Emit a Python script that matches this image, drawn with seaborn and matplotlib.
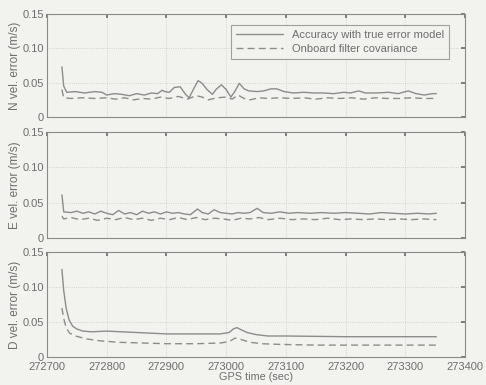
import matplotlib
matplotlib.use("Agg")
import matplotlib.pyplot as plt
import seaborn as sns
import pandas as pd

# ---- data ----
n_true_t = [272725, 272728, 272733, 272747, 272763, 272780, 272792, 272800, 272813, 272825,
            272838, 272850, 272863, 272875, 272885, 272893, 272897, 272905, 272913, 272923,
            272932, 272938, 272945, 272953, 272960, 272968, 272977, 272983, 272992, 273000,
            273008, 273015, 273022, 273030, 273038, 273052, 273063, 273075, 273085, 273097,
            273113, 273130, 273147, 273163, 273180, 273197, 273208, 273222, 273233, 273252,
            273272, 273288, 273305, 273318, 273332, 273345, 273352]
n_true_v = [0.073, 0.045, 0.036, 0.037, 0.035, 0.037, 0.036, 0.032, 0.034, 0.033,
            0.031, 0.034, 0.032, 0.035, 0.034, 0.039, 0.037, 0.036, 0.043, 0.044,
            0.033, 0.028, 0.040, 0.053, 0.049, 0.040, 0.033, 0.040, 0.047, 0.040,
            0.029, 0.038, 0.049, 0.041, 0.038, 0.037, 0.038, 0.041, 0.041, 0.037,
            0.035, 0.036, 0.035, 0.035, 0.034, 0.036, 0.035, 0.038, 0.035, 0.035,
            0.036, 0.034, 0.038, 0.034, 0.032, 0.034, 0.034]
n_cov_t = [272725, 272728, 272740, 272760, 272780, 272800, 272815, 272830, 272845, 272860,
           272875, 272890, 272905, 272920, 272935, 272950, 272960, 272970, 272985, 273000,
           273010, 273020, 273030, 273040, 273055, 273070, 273090, 273110, 273130, 273150,
           273170, 273190, 273210, 273230, 273250, 273270, 273290, 273310, 273330, 273352]
n_cov_v = [0.040, 0.028, 0.027, 0.028, 0.027, 0.028, 0.026, 0.028, 0.025, 0.027,
           0.026, 0.029, 0.027, 0.030, 0.026, 0.031, 0.029, 0.025, 0.028, 0.029,
           0.026, 0.032, 0.027, 0.025, 0.028, 0.027, 0.028, 0.027, 0.028, 0.026,
           0.028, 0.027, 0.028, 0.026, 0.028, 0.027, 0.027, 0.028, 0.027, 0.027]

e_true_t = [272725, 272728, 272740, 272750, 272760, 272770, 272780, 272790, 272800, 272810,
            272820, 272830, 272840, 272850, 272860, 272870, 272880, 272890, 272900, 272910,
            272920, 272930, 272940, 272952, 272960, 272970, 272980, 272990, 273000, 273010,
            273020, 273030, 273040, 273052, 273062, 273075, 273090, 273105, 273120, 273140,
            273160, 273180, 273200, 273220, 273240, 273260, 273280, 273300, 273320, 273340,
            273352]
e_true_v = [0.061, 0.037, 0.036, 0.038, 0.035, 0.037, 0.034, 0.038, 0.035, 0.033,
            0.039, 0.034, 0.036, 0.033, 0.038, 0.035, 0.037, 0.034, 0.037, 0.035,
            0.036, 0.034, 0.033, 0.041, 0.036, 0.034, 0.040, 0.036, 0.035, 0.034,
            0.036, 0.035, 0.036, 0.042, 0.036, 0.035, 0.037, 0.035, 0.036, 0.035,
            0.036, 0.035, 0.036, 0.035, 0.034, 0.036, 0.035, 0.034, 0.035, 0.034,
            0.035]
e_cov_t = [272725, 272728, 272740, 272755, 272770, 272785, 272800, 272815, 272830, 272845,
           272860, 272875, 272890, 272905, 272920, 272935, 272950, 272965, 272980, 272995,
           273010, 273025, 273040, 273055, 273070, 273090, 273110, 273130, 273150, 273170,
           273190, 273210, 273230, 273250, 273270, 273290, 273310, 273330, 273352]
e_cov_v = [0.031, 0.027, 0.029, 0.026, 0.028, 0.025, 0.028, 0.026, 0.029, 0.026,
           0.028, 0.025, 0.028, 0.026, 0.029, 0.026, 0.029, 0.026, 0.028, 0.027,
           0.025, 0.028, 0.027, 0.029, 0.026, 0.028, 0.026, 0.027, 0.026, 0.028,
           0.026, 0.027, 0.026, 0.027, 0.026, 0.027, 0.026, 0.027, 0.026]

d_true_t = [272725, 272728, 272732, 272737, 272743, 272750, 272760, 272775, 272800, 272825,
            272850, 272875, 272900, 272950, 272990, 273005, 273012, 273018, 273025, 273035,
            273050, 273070, 273100, 273200, 273300, 273352]
d_true_v = [0.125, 0.095, 0.070, 0.053, 0.044, 0.040, 0.037, 0.036, 0.037, 0.036,
            0.035, 0.034, 0.033, 0.033, 0.033, 0.035, 0.040, 0.042, 0.039, 0.035,
            0.032, 0.030, 0.030, 0.029, 0.029, 0.029]
d_cov_t = [272725, 272728, 272732, 272738, 272748, 272765, 272790, 272820, 272860, 272900,
           272950, 272990, 273005, 273015, 273025, 273040, 273060, 273090, 273150, 273250,
           273352]
d_cov_v = [0.070, 0.055, 0.042, 0.034, 0.030, 0.026, 0.023, 0.021, 0.020, 0.019,
           0.019, 0.020, 0.022, 0.027, 0.025, 0.021, 0.019, 0.018, 0.017, 0.017,
           0.017]

ylabels = ["N vel. error (m/s)", "E vel. error (m/s)", "D vel. error (m/s)"]
legend_labels = ["Accuracy with true error model", "Onboard filter covariance"]
yticks = [0, 0.05, 0.10, 0.15]
ytick_labels = ["0", "0.05", "0.10", "0.15"]
xticks = [272700, 272800, 272900, 273000, 273100, 273200, 273300, 273400]
xlabel = "GPS time (sec)"

# ---- style ----
sns.set_theme(style="white")
plt.rcParams["font.family"] = ["Liberation Sans", "DejaVu Sans"]
bg = "#f2f2ef"
lc = "#8c8c8c"
tc = "#6e6e6e"

fig = plt.figure(figsize=(4.86, 3.85), dpi=100, facecolor=bg)
boxes = [(0.0967, 0.6961, 0.8601, 0.2675),
         (0.0967, 0.3818, 0.8601, 0.2753),
         (0.0967, 0.0727, 0.8601, 0.2728)]

series = [(n_true_t, n_true_v, n_cov_t, n_cov_v),
          (e_true_t, e_true_v, e_cov_t, e_cov_v),
          (d_true_t, d_true_v, d_cov_t, d_cov_v)]

for i, (box, (tt, tv, ct, cv)) in enumerate(zip(boxes, series)):
    ax = fig.add_axes(box)
    ax.set_facecolor(bg)
    df1 = pd.DataFrame({"t": tt, "v": tv})
    df2 = pd.DataFrame({"t": ct, "v": cv})
    sns.lineplot(data=df1, x="t", y="v", ax=ax, color=lc, lw=1.0,
                 label=legend_labels[0] if i == 0 else None, legend=False)
    sns.lineplot(data=df2, x="t", y="v", ax=ax, color=lc, lw=1.0,
                 linestyle=(0, (5, 3)),
                 label=legend_labels[1] if i == 0 else None, legend=False)
    ax.set_xlim(272700, 273400)
    ax.set_ylim(0, 0.15)
    ax.set_xticks(xticks)
    ax.set_yticks(yticks)
    ax.set_yticklabels(ytick_labels)
    ax.grid(True, linestyle=":", color="#c8c8c8", lw=0.6)
    ax.tick_params(direction="in", length=3, color=tc, labelcolor=tc,
                   labelsize=8, top=True, right=True, pad=2)
    ax.tick_params(axis="x", pad=3.5)
    for s in ax.spines.values():
        s.set_color("#8a8a8a")
        s.set_linewidth(0.8)
    ax.set_ylabel(ylabels[i], color=tc, fontsize=8.5, labelpad=1)
    if i < 2:
        ax.set_xticklabels([])
        ax.set_xlabel("")
    else:
        ax.set_xticklabels([str(x) for x in xticks])
        ax.set_xlabel(xlabel, color=tc, fontsize=7.8, labelpad=0)
    if i == 0:
        leg = ax.legend(loc="upper right", bbox_to_anchor=(0.975, 0.95),
                        fontsize=8, frameon=True, fancybox=False,
                        handlelength=4.2, borderpad=0.45, labelspacing=0.35,
                        handletextpad=0.8)
        leg.get_frame().set_edgecolor("#8a8a8a")
        leg.get_frame().set_facecolor(bg)
        leg.get_frame().set_linewidth(0.8)
        for t in leg.get_texts():
            t.set_color(tc)

fig.savefig("out.png", dpi=100, facecolor=bg)
